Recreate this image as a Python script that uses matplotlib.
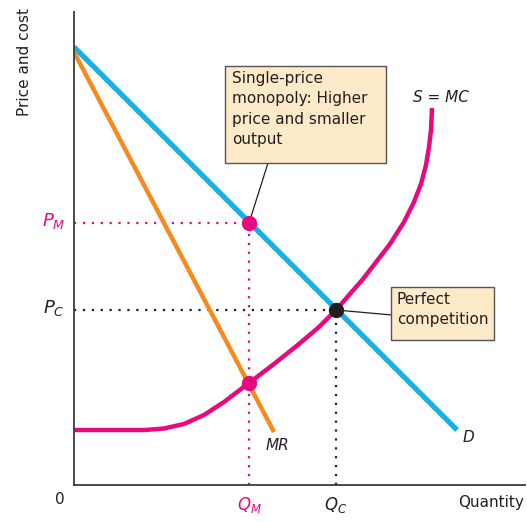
import matplotlib
matplotlib.use('Agg')
import matplotlib.pyplot as plt
from matplotlib.patches import Rectangle

# curves (quantity, price)
demand_q = [0, 383]
demand_p = [438, 55]
mr_q = [0, 200]
mr_p = [433, 53]
mc_q = [0, 71, 90, 110, 130, 150, 175, 200, 225, 245, 262, 289, 316, 330, 340, 347, 352, 355, 357, 358]
mc_p = [55, 55, 56.5, 61, 70, 83, 102, 121, 141, 158, 175, 206, 241, 263, 283, 301, 320, 338, 355, 377]

# key outcomes
q_m, p_m, mr_at_qm = 175, 262, 102
q_c, p_c = 262, 175

BLUE = '#19AEE8'
ORANGE = '#F58A1F'
PINK = '#E8087F'
DARK = '#231F20'
BOX = '#FDEAC8'

fig = plt.figure(figsize=(5.27, 5.22), dpi=100)
ax = fig.add_axes([74 / 527, 37 / 522, 451 / 527, 473 / 522])
ax.set_xlim(0, 451)
ax.set_ylim(0, 473)
for s in ['top', 'right']:
    ax.spines[s].set_visible(False)
for s in ['left', 'bottom']:
    ax.spines[s].set_color('#3a3a3a')
    ax.spines[s].set_linewidth(1.3)
ax.set_xticks([])
ax.set_yticks([])

# dotted guides
ax.plot([0, q_m], [p_m, p_m], ls=(0, (1, 3)), color=PINK, lw=1.6)
ax.plot([q_m, q_m], [0, p_m], ls=(0, (1, 3)), color=PINK, lw=1.6)
ax.plot([0, q_c], [p_c, p_c], ls=(0, (1, 3)), color=DARK, lw=1.6)
ax.plot([q_c, q_c], [0, p_c], ls=(0, (1, 3)), color=DARK, lw=1.6)

# curves
ax.plot(demand_q, demand_p, color=BLUE, lw=3.8, solid_capstyle='butt')
ax.plot(mr_q, mr_p, color=ORANGE, lw=3.2, solid_capstyle='butt')
ax.plot(mc_q, mc_p, color=PINK, lw=3.2, solid_capstyle='butt', solid_joinstyle='round')

# annotation boxes + leaders
ax.plot([194, q_m], [322, p_m], color=DARK, lw=0.9)
ax.plot([318, q_c], [170, p_c], color=DARK, lw=0.9)
ax.add_patch(Rectangle((151, 322), 161, 97, facecolor=BOX, edgecolor='#555555', lw=1.0, zorder=4))
ax.text(158, 414, 'Single-price\nmonopoly: Higher\nprice and smaller\noutput',
        fontsize=11, va='top', ha='left', linespacing=1.45, color=DARK, zorder=5)
ax.add_patch(Rectangle((317, 145), 103, 53, facecolor=BOX, edgecolor='#555555', lw=1.0, zorder=4))
ax.text(323, 193, 'Perfect\ncompetition',
        fontsize=11, va='top', ha='left', linespacing=1.45, color=DARK, zorder=5)

# points
ax.plot(q_m, p_m, 'o', color=PINK, ms=10, zorder=6)
ax.plot(q_m, mr_at_qm, 'o', color=PINK, ms=10, zorder=6)
ax.plot(q_c, p_c, 'o', color=DARK, ms=10, zorder=6)

# curve labels
ax.text(203, 40, 'MR', style='italic', fontsize=11, ha='center', va='center', color=DARK)
ax.text(394, 48, 'D', style='italic', fontsize=11, ha='center', va='center', color=DARK)
ax.text(367, 387, 'S = MC', style='italic', fontsize=11, ha='center', va='center', color=DARK)

# axis labels
ax.text(-49, 423, 'Price and cost', rotation=90, fontsize=11, ha='center', va='center',
        color=DARK, clip_on=False)
ax.text(-14, -15, '0', fontsize=11, ha='center', va='center', color=DARK, clip_on=False)
ax.text(450, -17, 'Quantity', fontsize=11, ha='right', va='center', color=DARK, clip_on=False)
ax.text(q_m, -20, r'$Q_M$', fontsize=12, ha='center', va='center', color=PINK, clip_on=False)
ax.text(q_c, -20, r'$Q_C$', fontsize=12, ha='center', va='center', color=DARK, clip_on=False)
ax.text(-20, p_m + 2, r'$P_M$', fontsize=13, ha='center', va='center', color=PINK, clip_on=False)
ax.text(-20, p_c + 2, r'$P_C$', fontsize=13, ha='center', va='center', color=DARK, clip_on=False)

fig.savefig('out.png', dpi=100)
